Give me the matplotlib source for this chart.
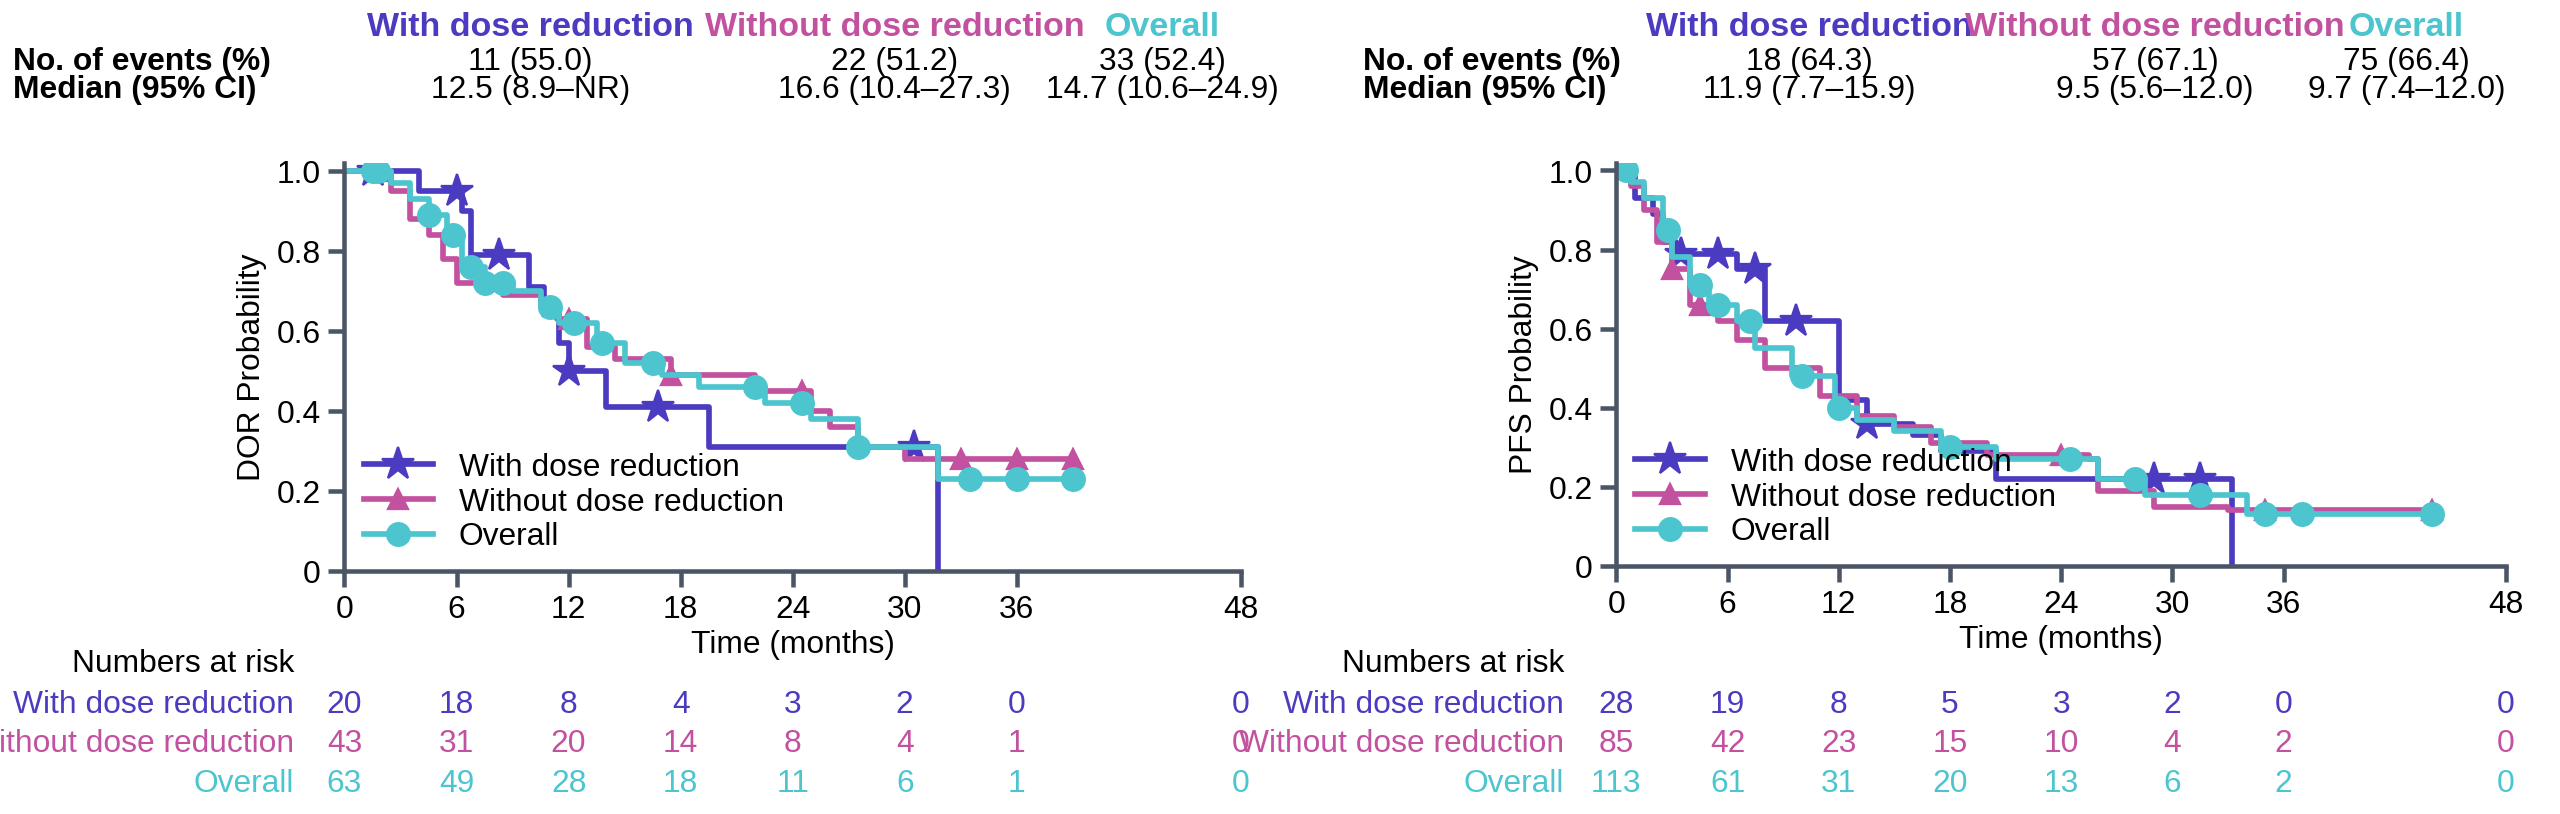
import numpy as np
import matplotlib.pyplot as plt

PURPLE = "#4B3BC0"
PINK = "#C2519F"
CYAN = "#4CC5CF"
AX = "#4a5566"
FS = 14

ticks = [0, 6, 12, 18, 24, 30, 36, 48]
groups = ["With dose reduction", "Without dose reduction", "Overall"]
colors = [PURPLE, PINK, CYAN]
markers = ["*", "^", "o"]
msizes = [15, 9, 10]

# ---- DOR (left) ----
dor_t = {
    "with": [0, 4.0, 6.3, 6.8, 9.9, 10.7, 11.5, 12.0, 14.0, 19.5, 31.8],
    "without": [0, 2.5, 3.5, 4.5, 5.3, 6.0, 8.5, 10.5, 11.4, 13.0, 14.5, 17.5, 22.0, 25.0, 26.0, 27.5, 30.0],
    "overall": [0, 2.5, 3.5, 4.5, 5.5, 6.3, 7.5, 9.0, 10.5, 11.5, 13.5, 15.0, 17.0, 19.0, 22.5, 25.0, 27.5, 31.8],
}
dor_s = {
    "with": [1.0, 0.95, 0.90, 0.79, 0.71, 0.64, 0.57, 0.50, 0.41, 0.31, 0.0],
    "without": [1.0, 0.95, 0.88, 0.84, 0.78, 0.72, 0.69, 0.67, 0.63, 0.56, 0.53, 0.49, 0.45, 0.40, 0.36, 0.31, 0.28],
    "overall": [1.0, 0.97, 0.93, 0.89, 0.84, 0.76, 0.72, 0.70, 0.66, 0.62, 0.57, 0.52, 0.49, 0.46, 0.42, 0.38, 0.31, 0.23],
}
dor_c = {
    "with": [1.5, 6.0, 8.3, 12.0, 16.8, 30.5],
    "without": [2.0, 12.0, 17.5, 24.5, 33.0, 36.0, 39.0],
    "overall": [1.5, 1.8, 4.5, 5.8, 6.8, 7.5, 8.5, 11.0, 12.3, 13.8, 16.5, 22.0, 24.5, 27.5, 33.5, 36.0, 39.0],
}
dor_end = 39.0

# ---- PFS (right) ----
pfs_t = {
    "with": [0, 1.0, 2.0, 2.5, 3.2, 6.5, 8.0, 12.0, 13.5, 16.0, 17.5, 20.5, 33.2],
    "without": [0, 0.8, 1.5, 2.2, 3.0, 4.0, 5.5, 6.5, 8.0, 11.0, 13.0, 15.0, 17.0, 20.0, 25.5, 26.0, 29.0, 33.0],
    "overall": [0, 0.8, 1.5, 2.5, 3.0, 4.0, 5.0, 6.5, 7.5, 9.5, 11.8, 13.0, 15.0, 17.5, 20.5, 26.0, 28.5, 34.0],
}
pfs_s = {
    "with": [1.0, 0.93, 0.89, 0.82, 0.79, 0.75, 0.62, 0.42, 0.36, 0.33, 0.29, 0.22, 0.0],
    "without": [1.0, 0.96, 0.90, 0.82, 0.75, 0.66, 0.62, 0.57, 0.50, 0.43, 0.38, 0.35, 0.31, 0.28, 0.27, 0.19, 0.15, 0.14],
    "overall": [1.0, 0.97, 0.93, 0.85, 0.78, 0.71, 0.66, 0.62, 0.55, 0.48, 0.40, 0.37, 0.34, 0.30, 0.27, 0.22, 0.18, 0.13],
}
pfs_c = {
    "with": [3.5, 5.5, 7.5, 9.7, 13.5, 29.0, 31.5],
    "without": [3.0, 4.5, 24.0, 35.0, 44.0],
    "overall": [0.5, 2.8, 4.5, 5.5, 7.2, 10.0, 12.0, 18.0, 24.5, 28.0, 31.5, 35.0, 37.0, 44.0],
}
pfs_end = 44.0

dor_risk = [[20, 18, 8, 4, 3, 2, 0, 0], [43, 31, 20, 14, 8, 4, 1, 0], [63, 49, 28, 18, 11, 6, 1, 0]]
pfs_risk = [[28, 19, 8, 5, 3, 2, 0, 0], [85, 42, 23, 15, 10, 4, 2, 0], [113, 61, 31, 20, 13, 6, 2, 0]]

dor_events = ["11 (55.0)", "22 (51.2)", "33 (52.4)"]
dor_median = ["12.5 (8.9–NR)", "16.6 (10.4–27.3)", "14.7 (10.6–24.9)"]
pfs_events = ["18 (64.3)", "57 (67.1)", "75 (66.4)"]
pfs_median = ["11.9 (7.7–15.9)", "9.5 (5.6–12.0)", "9.7 (7.4–12.0)"]

plt.rcParams["font.family"] = ["Liberation Sans", "DejaVu Sans"]
# layout measured on a 1568x499 view of the reference; saved at 2560x815
W, H = 1568, 499
DPI = 2560 / W * 100
fig = plt.figure(figsize=(W / 100, H / 100), dpi=DPI)


def px(x, y):
    return x / W, 1 - y / H


def km_panel(rect, t, s, c, end, ylabel, risk, events, median, lab_x, row_x, stat_cols):
    ax = fig.add_axes(rect)
    keys = ["with", "without", "overall"]
    for k, col, m, ms, g in zip(keys, colors, markers, msizes, groups):
        tt = list(t[k])
        ss = list(s[k])
        if ss[-1] > 0:
            tt.append(end)
            ss.append(ss[-1])
        ax.step(tt, ss, where="post", color=col, lw=2.5)
        cs = [x for x in c[k] if x <= tt[-1]]
        cy = [ss[np.searchsorted(tt, x, side="right") - 1] for x in cs]
        ax.plot(cs, cy, ls="none", marker=m, ms=ms, color=col)
        ax.plot([], [], color=col, lw=2.5, marker=m, ms=ms, label=g)
    ax.set_xlim(0, 48)
    ax.set_ylim(0, 1.02)
    ax.set_xticks(ticks)
    ax.set_yticks([0, 0.2, 0.4, 0.6, 0.8, 1.0])
    ax.set_yticklabels(["0", "0.2", "0.4", "0.6", "0.8", "1.0"])
    for sp in ["top", "right"]:
        ax.spines[sp].set_visible(False)
    for sp in ["left", "bottom"]:
        ax.spines[sp].set_color(AX)
        ax.spines[sp].set_linewidth(2)
    ax.tick_params(colors=AX, width=2, length=7, labelsize=FS, labelcolor="black")
    ax.set_xlabel("Time (months)", fontsize=FS, labelpad=2)
    ax.set_ylabel(ylabel, fontsize=FS)
    ax.legend(loc="lower left", frameon=False, fontsize=FS, handlelength=2.2,
              borderaxespad=0.2, labelspacing=0.15)

    # header
    fig.text(*px(lab_x, 38), "No. of events (%)", fontsize=FS, weight="bold", va="center")
    fig.text(*px(lab_x, 55), "Median (95% CI)", fontsize=FS, weight="bold", va="center")
    for g, col, x, e, md in zip(groups, colors, stat_cols, events, median):
        fig.text(*px(x, 17), g, fontsize=FS + 1, weight="bold", color=col, ha="center", va="center")
        fig.text(*px(x, 38), e, fontsize=FS, ha="center", va="center")
        fig.text(*px(x, 55), md, fontsize=FS, ha="center", va="center")

    # risk table
    fig.text(*px(row_x, 407), "Numbers at risk", fontsize=FS, ha="right", va="center")
    for i, (g, col, row) in enumerate(zip(groups, colors, risk)):
        y = 432 + i * 24
        fig.text(*px(row_x, y), g, fontsize=FS, ha="right", va="center", color=col)
        for tk, v in zip(ticks, row):
            xf = ax.transData.transform((tk, 0))[0] / fig.bbox.width
            fig.text(xf, 1 - y / H, str(v), fontsize=FS, ha="center", va="center", color=col)
    return ax


km_panel([211 / W, 1 - 350 / H, 549 / W, 250 / H], dor_t, dor_s, dor_c, dor_end,
         "DOR Probability", dor_risk, dor_events, dor_median, 8, 180, [325, 548, 712])
km_panel([990 / W, 1 - 347 / H, 545 / W, 247 / H], pfs_t, pfs_s, pfs_c, pfs_end,
         "PFS Probability", pfs_risk, pfs_events, pfs_median, 835, 958, [1108, 1320, 1474])

fig.savefig("out.png", dpi=DPI)
